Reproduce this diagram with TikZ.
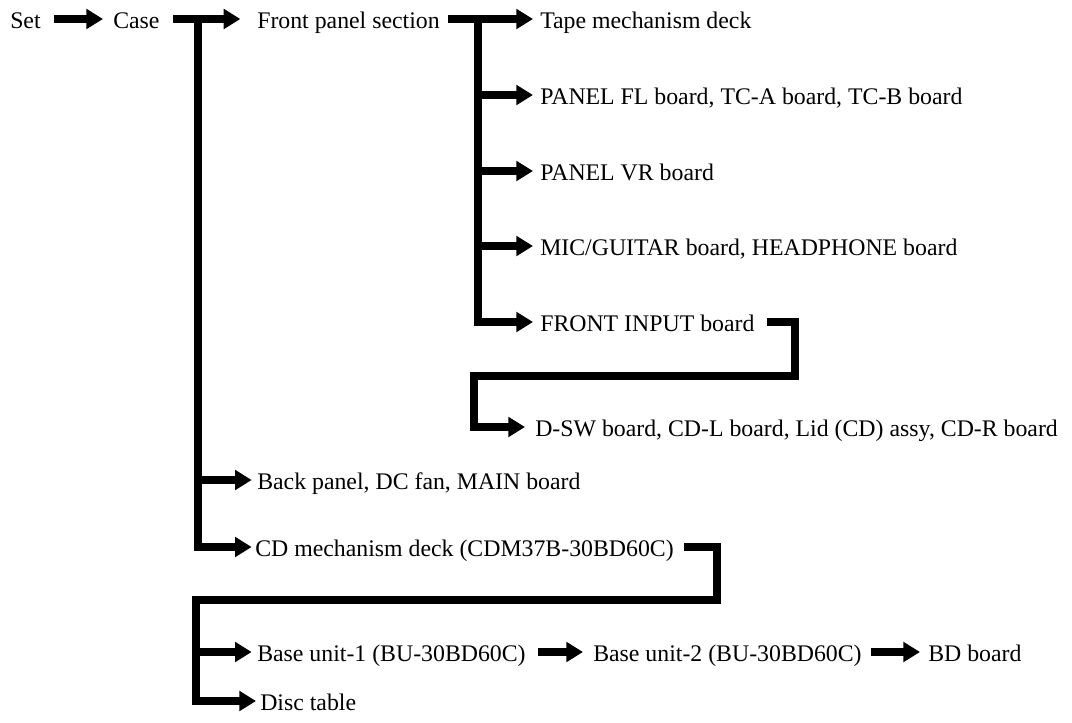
\documentclass[tikz,border=0pt]{standalone}
\usepackage{fontspec}
\setmainfont{Liberation Serif}
\usetikzlibrary{arrows.meta}
\begin{document}
\begin{tikzpicture}[x=0.75pt,y=-0.75pt,
  lbl/.style={anchor=west,inner sep=0pt,text height=14.5pt,text depth=0pt,font=\fontsize{17.85}{21}\selectfont},
  arr/.style={line width=6.2pt,line join=miter,-{Triangle[length=12.5pt,width=14.5pt]}}]
\useasboundingbox (0,0) rectangle (1072,722);
% top row
\node[lbl] (set) at (10,19) {Set};
\node[lbl] (case) at (113,19) {Case};
\node[lbl] (front) at (257,19) {Front panel section};
\draw[arr,shorten <=9.75pt,shorten >=7.5pt] (set) -- (case);
\draw[arr,shorten <=10pt,shorten >=12.5pt] (case) -- (front);
% front panel section
\node[lbl] (tape) at (540,19) {Tape mechanism deck};
\node[lbl] (pfl) at (540,95) {PANEL FL board, TC-A board, TC-B board};
\node[lbl] (pvr) at (540,171) {PANEL VR board};
\node[lbl] (mic) at (540,246) {MIC/GUITAR board, HEADPHONE board};
\node[lbl] (fin) at (540,322) {FRONT INPUT board};
\node[lbl] (dsw) at (535,427) {D-SW board, CD-L board, Lid (CD) assy, CD-R board};
\coordinate (ftop) at (478,19);
\draw[arr,shorten <=6pt,shorten >=5.25pt] (front) -- (tape);
\draw[arr,shorten >=5.25pt] (ftop) |- (pfl);
\draw[arr,shorten >=5.25pt] (ftop) |- (pvr);
\draw[arr,shorten >=5.25pt] (ftop) |- (mic);
\draw[arr,shorten >=5.25pt] (ftop) |- (fin);
\coordinate (f1) at (795,376);
\coordinate (f2) at (474,376);
\draw[arr,shorten <=9pt,shorten >=7.5pt] (fin) -| (f1) -- (f2) |- (dsw);
% case branches
\node[lbl] (back) at (257,480) {Back panel, DC fan, MAIN board};
\node[lbl] (cdm) at (255,547) {CD mechanism deck (CDM37B-30BD60C)};
\coordinate (ctop) at (198,19);
\draw[arr,shorten >=4pt] (ctop) |- (back);
\draw[arr,shorten >=2.5pt] (ctop) |- (cdm);
% CD mechanism deck
\node[lbl] (bu1) at (257,652) {Base unit-1 (BU-30BD60C)};
\node[lbl] (bu2) at (593,652) {Base unit-2 (BU-30BD60C)};
\node[lbl] (bd) at (928,652) {BD board};
\node[lbl] (disc) at (260,701) {Disc table};
\coordinate (c1) at (717,600);
\coordinate (c2) at (196,600);
\draw[arr,shorten <=7.5pt,shorten >=3pt] (cdm) -| (c1) -- (c2) |- (disc);
\draw[arr,shorten >=4pt] (c2) |- (bu1);
\draw[arr,shorten <=9pt,shorten >=7.5pt] (bu1) -- (bu2);
\draw[arr,shorten <=6.5pt,shorten >=6pt] (bu2) -- (bd);
\end{tikzpicture}
\end{document}
